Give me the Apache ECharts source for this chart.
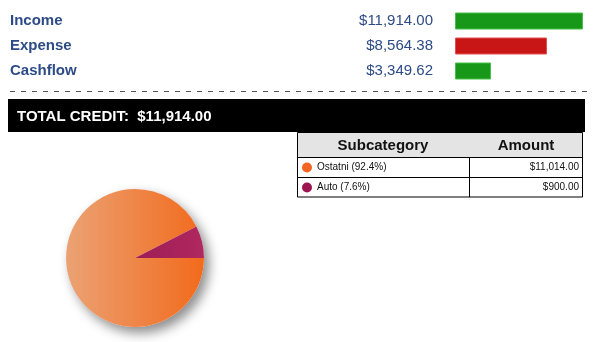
<!DOCTYPE html>
<html>
<head>
<meta charset="utf-8">
<script src="https://cdn.jsdelivr.net/npm/echarts@6/dist/echarts.min.js"></script>
<style>
  html, body { margin: 0; padding: 0; background: #fff; }
  #chart { width: 598px; height: 342px; }
</style>
</head>
<body>
<div id="chart"></div>
<script>
// Summary rows
var summaryNames = ['Income', 'Expense', 'Cashflow'];
var summaryValues = [11914.00, 8564.38, 3349.62];
var summaryColors = ['#189818', '#c81616', '#189818'];

// Credit breakdown by subcategory
var subNames = ['Ostatni', 'Auto'];
var subValues = [11014.00, 900.00];
var subColors = [
  ['#eba274', '#f26a1c'],
  ['#9c1d55', '#b0285f']
];
var subDots = ['#f26522', '#9e1450'];

var tableHeaders = ['Subcategory', 'Amount'];
var totalLabel = 'TOTAL CREDIT:';

var FONT = '"Liberation Sans", Arial, Helvetica, sans-serif';
var BLUE = '#2d4b86';

function money(v) {
  return '$' + v.toLocaleString('en-US', { minimumFractionDigits: 2, maximumFractionDigits: 2 });
}

var subTotal = subValues.reduce(function (a, b) { return a + b; }, 0);

// Header band, dashed separator and the subcategory table
var graphics = [
  {
    type: 'line', silent: true,
    shape: { x1: 10, y1: 91.5, x2: 588, y2: 91.5 },
    style: { stroke: '#555', lineWidth: 1, lineDash: [5, 6] }
  },
  {
    type: 'rect', silent: true,
    shape: { x: 8, y: 99, width: 577, height: 33 },
    style: { fill: '#000' }
  },
  {
    type: 'text', silent: true, x: 17, y: 117,
    style: {
      text: totalLabel + '  ' + money(summaryValues[0]),
      fill: '#fff', font: 'bold 15px ' + FONT, textVerticalAlign: 'middle'
    }
  },
  {
    type: 'rect', silent: true,
    shape: { x: 297.5, y: 132.5, width: 285, height: 25 },
    style: { fill: '#e4e4e4' }
  },
  {
    type: 'rect', silent: true,
    shape: { x: 297.5, y: 132.5, width: 285, height: 64.5 },
    style: { fill: 'none', stroke: '#000', lineWidth: 1 }
  },
  {
    type: 'line', silent: true,
    shape: { x1: 297.5, y1: 157.5, x2: 582.5, y2: 157.5 },
    style: { stroke: '#000', lineWidth: 1 }
  },
  {
    type: 'line', silent: true,
    shape: { x1: 469.5, y1: 157.5, x2: 469.5, y2: 197 },
    style: { stroke: '#000', lineWidth: 1 }
  },
  {
    type: 'text', silent: true, x: 383, y: 146,
    style: {
      text: tableHeaders[0], fill: '#111', font: 'bold 15px ' + FONT,
      textAlign: 'center', textVerticalAlign: 'middle'
    }
  },
  {
    type: 'text', silent: true, x: 526, y: 146,
    style: {
      text: tableHeaders[1], fill: '#111', font: 'bold 15px ' + FONT,
      textAlign: 'center', textVerticalAlign: 'middle'
    }
  }
];

subNames.forEach(function (name, i) {
  var cy = 167.5 + i * 20;
  if (i > 0) {
    graphics.push({
      type: 'line', silent: true,
      shape: { x1: 297.5, y1: cy - 10, x2: 582.5, y2: cy - 10 },
      style: { stroke: '#000', lineWidth: 1 }
    });
  }
  graphics.push({
    type: 'circle', silent: true,
    shape: { cx: 307, cy: cy, r: 5 },
    style: { fill: subDots[i] }
  });
  graphics.push({
    type: 'text', silent: true, x: 317, y: cy,
    style: {
      text: name + ' (' + (subValues[i] / subTotal * 100).toFixed(1) + '%)',
      fill: '#111', font: '10px ' + FONT, textVerticalAlign: 'middle'
    }
  });
  graphics.push({
    type: 'text', silent: true, x: 579, y: cy,
    style: {
      text: money(subValues[i]),
      fill: '#111', font: '10px ' + FONT, textAlign: 'right', textVerticalAlign: 'middle'
    }
  });
});

var chart = echarts.init(document.getElementById('chart'), null, { renderer: 'canvas' });

chart.setOption({
  animation: false,
  backgroundColor: '#fff',
  grid: { left: 455, top: 8.5, width: 128, height: 75, containLabel: false },
  xAxis: {
    type: 'value', min: 0, max: function (e) { return e.max; }, show: false
  },
  yAxis: {
    type: 'category', inverse: true, data: summaryNames,
    axisLine: { show: false }, axisTick: { show: false }, splitLine: { show: false },
    axisLabel: {
      align: 'left', margin: 445, padding: [3, 0, 0, 0],
      color: BLUE, fontFamily: FONT, fontSize: 15, fontWeight: 'bold'
    }
  },
  series: [
    {
      type: 'bar',
      barWidth: 17,
      data: summaryValues.map(function (v, i) {
        return {
          value: v,
          itemStyle: {
            color: summaryColors[i],
            borderColor: i === 1 ? '#e05050' : '#46c046',
            borderWidth: 1
          }
        };
      }),
      label: {
        show: true, position: 'left', distance: 22, padding: [3, 0, 0, 0],
        formatter: function (p) { return money(p.value); },
        color: BLUE, fontFamily: FONT, fontSize: 15
      }
    },
    {
      // soft drop shadow beneath the pie
      type: 'pie', silent: true, z: 1,
      center: [135, 258], radius: 69,
      label: { show: false }, labelLine: { show: false },
      data: [{ value: subTotal }],
      itemStyle: {
        color: '#fff',
        shadowBlur: 12, shadowOffsetX: 5, shadowOffsetY: 6,
        shadowColor: 'rgba(0,0,0,0.45)'
      }
    },
    {
      type: 'pie', z: 2,
      center: [135, 258], radius: 69,
      startAngle: 0, clockwise: true,
      label: { show: false }, labelLine: { show: false },
      emphasis: { disabled: true },
      data: subNames.map(function (n, i) {
        return {
          name: n, value: subValues[i],
          itemStyle: {
            color: new echarts.graphic.LinearGradient(0, 0, 1, 0, [
              { offset: 0, color: subColors[i][0] },
              { offset: 1, color: subColors[i][1] }
            ])
          }
        };
      })
    }
  ],
  graphic: graphics
});
</script>
</body>
</html>
